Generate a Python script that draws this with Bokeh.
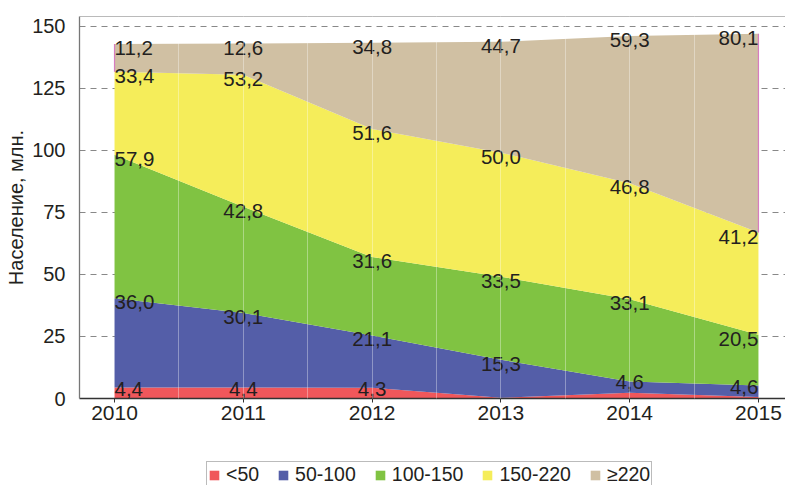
from bokeh.plotting import figure
from bokeh.layouts import column
from bokeh.models import (ColumnDataSource, Range1d, FixedTicker, Legend, LegendItem, Span, LabelSet)
from bokeh.core.properties import value
from bokeh.embed import file_html
from bokeh.resources import INLINE

# ---- data ----
years = [2010, 2011, 2012, 2013, 2014, 2015]
series_names = ["<50", "50-100", "100-150", "150-220", "≥220"]
v_lt50 = [4.4, 4.4, 4.3, 0.3, 2.3, 0.6]
v_50_100 = [36.0, 30.1, 21.1, 15.3, 4.6, 4.6]
v_100_150 = [57.9, 42.8, 31.6, 33.5, 33.1, 20.5]
v_150_220 = [33.4, 53.2, 51.6, 50.0, 46.8, 41.2]
v_ge220 = [11.2, 12.6, 34.8, 44.7, 59.3, 80.1]
lt50_labelled = [True, True, True, False, False, False]
y_ticks = [0, 25, 50, 75, 100, 125, 150]

colors = ["#f0575b", "#545ea8", "#80c342", "#f5ed5a", "#d0c0a3"]
FONT = "Liberation Sans"
TXT = "#231f20"

all_vals = [v_lt50, v_50_100, v_100_150, v_150_220, v_ge220]
keys = ["s0", "s1", "s2", "s3", "s4"]
data = {"year": years}
for k, v in zip(keys, all_vals):
    data[k] = v
source = ColumnDataSource(data)

p = figure(width=785, height=436, output_backend="svg", toolbar_location=None,
           x_range=Range1d(2009.728, 2015.21), y_range=Range1d(0, 154),
           min_border_left=79, min_border_right=0, min_border_top=16, min_border_bottom=38)
p.outline_line_color = None
p.background_fill_color = "white"
p.border_fill_color = "white"

# horizontal dashed grid (underlay)
p.ygrid.ticker = FixedTicker(ticks=y_ticks[1:])
p.ygrid.grid_line_color = "#888888"
p.ygrid.grid_line_dash = "6 5"
p.ygrid.grid_line_width = 1

# stacked areas
renderers = p.varea_stack(stackers=keys, x="year", color=colors, source=source)

# light vertical lines over the areas
half_ticks = [y + 0.5 for y in years[:-1]] + years[1:-1]
p.xgrid.ticker = FixedTicker(ticks=sorted(half_ticks))
p.xgrid.grid_line_color = "white"
p.xgrid.grid_line_alpha = 0.35
p.xgrid.level = "overlay"

# pink side edges of the top band
cum = []
run = [0.0] * len(years)
for v in all_vals:
    run = [a + b for a, b in zip(run, v)]
    cum.append(run)
p.segment(x0=[years[0], years[-1]], x1=[years[0], years[-1]],
          y0=[cum[3][0], cum[3][-1]], y1=[cum[4][0], cum[4][-1]],
          line_color="#d77cc0", line_width=1.2)

# top frame line
p.add_layout(Span(location=154, dimension="width", line_color="#777777", line_width=1.2))

# value labels (lifted a little; labels close to the axis lifted a bit more so they stay visible)
groups = {}
for si, vals in enumerate(all_vals):
    for yi, yr in enumerate(years):
        if si == 0 and not lt50_labelled[yi]:
            continue
        align = "left" if yi == 0 else ("right" if yi == len(years) - 1 else "center")
        lift = 6 if cum[si][yi] < 8 else 3
        gx, gy, gt = groups.setdefault((align, lift), ([], [], []))
        gx.append(yr)
        gy.append(cum[si][yi])
        gt.append(f"{vals[yi]:.1f}".replace(".", ","))
for (align, lift), (gx, gy, gt) in groups.items():
    lsrc = ColumnDataSource(dict(x=gx, y=gy, t=gt))
    p.add_layout(LabelSet(x="x", y="y", text="t", source=lsrc, y_offset=lift,
                          text_align=align, text_baseline="top",
                          text_font=value(FONT), text_font_size="20.5px",
                          text_color=TXT))

# axes
p.xaxis.ticker = FixedTicker(ticks=years)
p.xaxis.axis_line_color = "#333333"
p.xaxis.axis_line_width = 1.3
p.xaxis.major_tick_line_color = "#333333"
p.xaxis.major_tick_out = 4
p.xaxis.major_tick_in = 0
p.xaxis.minor_tick_line_color = None
p.xaxis.major_label_standoff = 3
p.xaxis.major_label_text_font = FONT
p.xaxis.major_label_text_font_size = "21px"
p.xaxis.major_label_text_color = TXT

p.yaxis.ticker = FixedTicker(ticks=y_ticks)
p.yaxis.axis_line_color = "#777777"
p.yaxis.axis_line_width = 1.3
p.yaxis.major_tick_line_color = None
p.yaxis.minor_tick_line_color = None
p.yaxis.major_tick_out = 0
p.yaxis.major_tick_in = 0
p.yaxis.major_label_standoff = 14
p.yaxis.major_label_text_font = FONT
p.yaxis.major_label_text_font_size = "20px"
p.yaxis.major_label_text_color = TXT
p.yaxis.axis_label = "Население, млн."
p.yaxis.axis_label_text_font = FONT
p.yaxis.axis_label_text_font_size = "20px"
p.yaxis.axis_label_text_font_style = "normal"
p.yaxis.axis_label_text_color = TXT
p.yaxis.axis_label_standoff = 2

# legend in its own strip below the chart (areas drawn off-range, only swatches show)
lf = figure(width=785, height=49, output_backend="svg", toolbar_location=None,
            x_axis_type=None, y_axis_type=None,
            x_range=Range1d(2009.728, 2015.21), y_range=Range1d(-2, -1),
            min_border_left=0, min_border_right=0, min_border_top=0, min_border_bottom=0)
lf.outline_line_color = None
lf.xgrid.visible = False
lf.ygrid.visible = False
lf.border_fill_color = "white"
swatches = lf.varea_stack(stackers=keys, x="year", color=colors, source=source)
items = [LegendItem(label=n, renderers=[r]) for n, r in zip(series_names, swatches)]
legend = Legend(items=items, orientation="horizontal", location=(127, -3),
                glyph_width=12, glyph_height=12, label_standoff=6, spacing=18,
                padding=1, margin=0,
                label_text_font=FONT, label_text_font_size="19.5px", label_text_color=TXT,
                border_line_color="#777777", border_line_width=1.2,
                background_fill_color="white", background_fill_alpha=1)
lf.add_layout(legend, "center")

layout = column(p, lf, spacing=0)
open("out.html", "w").write(file_html(layout, INLINE))
